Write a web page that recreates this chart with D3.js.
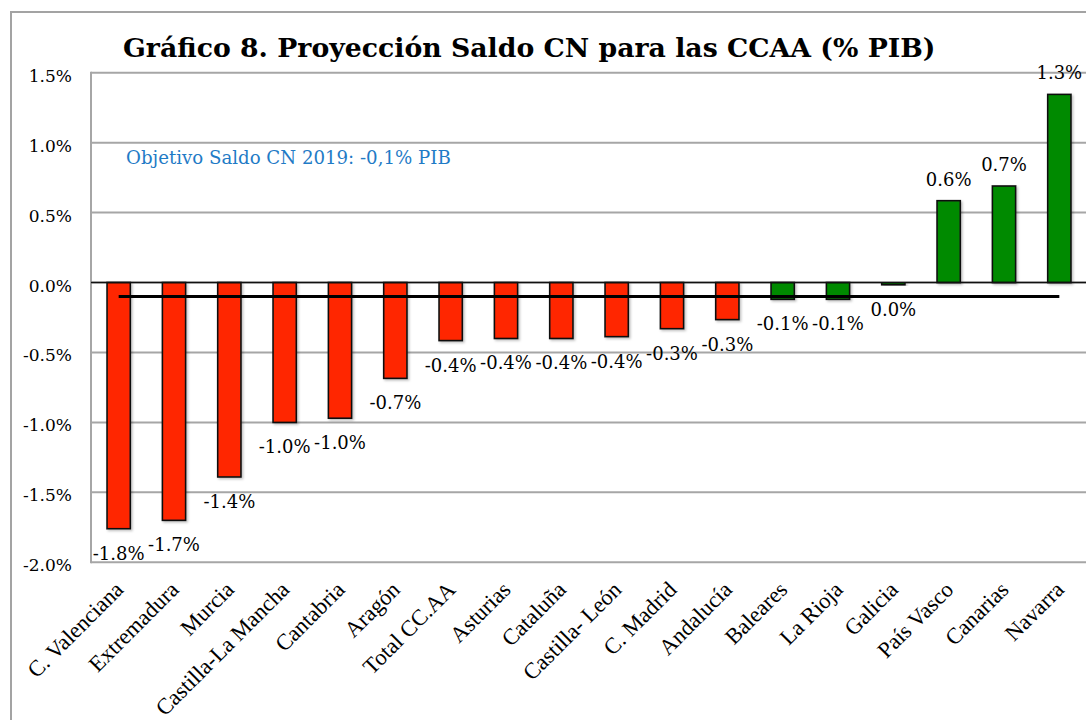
<!DOCTYPE html>
<html>
<head>
<meta charset="utf-8">
<script src="https://cdn.jsdelivr.net/npm/d3@7"></script>
<style>
  body { margin: 0; background: #fff; }
  svg { display: block; }
</style>
</head>
<body>
<svg id="chart" width="1086" height="720"></svg>
<script>
// regions, sorted like in the original chart
var regions = ["C. Valenciana", "Extremadura", "Murcia", "Castilla-La Mancha", "Cantabria",
  "Aragón", "Total CC.AA", "Asturias", "Cataluña", "Castilla- León", "C. Madrid",
  "Andalucía", "Baleares", "La Rioja", "Galicia", "País Vasco", "Canarias", "Navarra"];
// saldo CN (% PIB)
var saldo = [-1.76, -1.70, -1.39, -1.00, -0.97, -0.685, -0.415, -0.40, -0.40, -0.387,
  -0.33, -0.265, -0.12, -0.12, -0.016, 0.585, 0.69, 1.345];
// data labels as printed on the chart
var labels = ["-1.8%", "-1.7%", "-1.4%", "-1.0%", "-1.0%", "-0.7%", "-0.4%", "-0.4%", "-0.4%",
  "-0.4%", "-0.3%", "-0.3%", "-0.1%", "-0.1%", "0.0%", "0.6%", "0.7%", "1.3%"];
var yTicks = [1.5, 1.0, 0.5, 0.0, -0.5, -1.0, -1.5, -2.0];
var objetivo = -0.1;

var data = regions.map(function (r, i) { return { name: r, value: saldo[i], label: labels[i] }; });

var svg = d3.select("#chart");
var margin = { top: 72.7, left: 91, right: -1, bottom: 157.7 };
var W = 1086, H = 720;

var x = d3.scaleBand().domain(regions).range([margin.left, W - margin.right]).paddingInner(0.58).paddingOuter(0.29);
var y = d3.scaleLinear().domain([-2.0, 1.5]).range([H - margin.bottom, margin.top]);

var defs = svg.append("defs");
var f = defs.append("filter").attr("id", "shadow").attr("x", "-20%").attr("y", "-20%").attr("width", "150%").attr("height", "150%");
f.append("feDropShadow").attr("dx", 1.5).attr("dy", 1.5).attr("stdDeviation", 1.2)
  .attr("flood-color", "#000").attr("flood-opacity", 0.25);

// outer frame
svg.append("path")
  .attr("d", "M11,720 L11,12 L1086,12")
  .attr("fill", "none").attr("stroke", "#a3a3a3").attr("stroke-width", 2);

// gridlines + y labels
var grid = svg.append("g");
grid.selectAll("line").data(yTicks).enter().append("line")
  .attr("x1", margin.left).attr("x2", W)
  .attr("y1", function (d) { return y(d); }).attr("y2", function (d) { return y(d); })
  .attr("stroke", "#a6a6a6").attr("stroke-width", 2);
svg.append("line")
  .attr("x1", margin.left).attr("x2", margin.left)
  .attr("y1", y(1.5) - 1).attr("y2", y(-2.0) + 1)
  .attr("stroke", "#a6a6a6").attr("stroke-width", 2);

grid.selectAll("text").data(yTicks).enter().append("text")
  .attr("x", 72).attr("y", function (d) { return y(d) + 9; })
  .attr("text-anchor", "end")
  .style("font-family", "'DejaVu Serif', serif").style("font-size", "17px")
  .text(function (d) { return d3.format(".1f")(d).replace("−", "-") + "%"; });

// bars
svg.append("g").selectAll("rect").data(data).enter().append("rect")
  .attr("x", function (d) { return x(d.name); })
  .attr("width", x.bandwidth())
  .attr("y", function (d) { return y(Math.max(0, d.value)); })
  .attr("height", function (d) { return Math.abs(y(d.value) - y(0)); })
  .attr("fill", function (d, i) { return d.value < 0 && i < 12 ? "#ff2600" : "#008a00"; })
  .attr("stroke", "#111").attr("stroke-width", 1.6)
  .attr("filter", "url(#shadow)");

// zero line
svg.append("line")
  .attr("x1", margin.left).attr("x2", W)
  .attr("y1", y(0)).attr("y2", y(0))
  .attr("stroke", "#111").attr("stroke-width", 1.6);

// objetivo line
var half = x.bandwidth() / 2;
svg.append("line")
  .attr("x1", x(regions[0]) + half).attr("x2", x(regions[regions.length - 1]) + half)
  .attr("y1", y(objetivo)).attr("y2", y(objetivo))
  .attr("stroke", "#000").attr("stroke-width", 3);

// data labels
svg.append("g").selectAll("text").data(data).enter().append("text")
  .attr("x", function (d) { return x(d.name) + half; })
  .attr("y", function (d) { return d.value > 0.01 ? y(d.value) - 15 : y(d.value) + 31; })
  .attr("text-anchor", "middle")
  .style("font-family", "'DejaVu Serif', serif").style("font-size", "18px")
  .text(function (d) { return d.label; });

// category labels
svg.append("g").selectAll("text").data(regions).enter().append("text")
  .attr("transform", function (d) { return "translate(" + (x(d) + half + 6) + ",591) rotate(-45)"; })
  .attr("text-anchor", "end")
  .style("font-family", "'Liberation Serif', serif").style("font-size", "22.5px")
  .text(function (d) { return d; });

// annotation
var ann = svg.append("text")
  .attr("x", 126).attr("y", 164)
  .attr("fill", "#1f7bc6")
  .style("font-family", "'DejaVu Serif', serif").style("font-size", "16px")
  .text("Objetivo Saldo CN 2019: -0,1% PIB");
var al = ann.node().getComputedTextLength();
ann.style("font-size", (16 * 325 / al) + "px");

// title
var title = svg.append("text")
  .attr("x", 123).attr("y", 57)
  .style("font-family", "'DejaVu Serif', serif").style("font-weight", "bold").style("font-size", "28px")
  .text("Gráfico 8. Proyección Saldo CN para las CCAA (% PIB)");
var tl = title.node().getComputedTextLength();
title.style("font-size", (28 * 813 / tl) + "px");
</script>
</body>
</html>
